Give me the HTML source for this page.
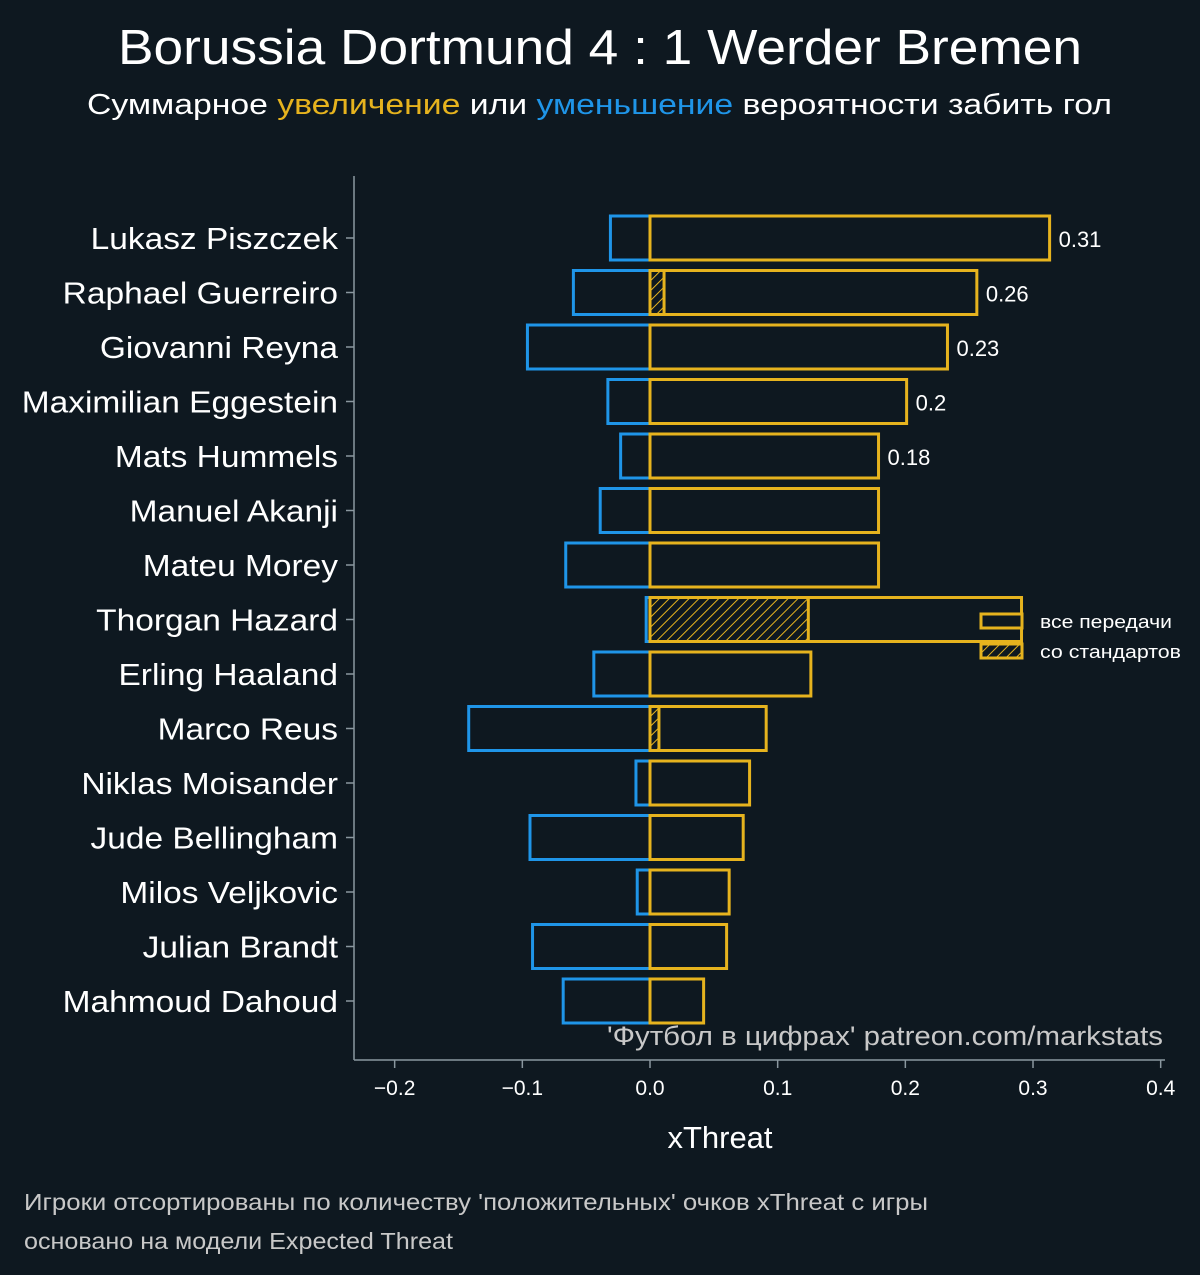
<!DOCTYPE html>
<html><head><meta charset="utf-8"><style>
body{margin:0;background:#0e1820;}
svg{display:block;font-family:"Liberation Sans","DejaVu Sans",sans-serif;}
</style></head><body>
<svg id="c" width="1200" height="1275" viewBox="0 0 1200 1275">
<defs><pattern id="hatch" width="7" height="7" patternUnits="userSpaceOnUse" patternTransform="rotate(45)"><rect width="7" height="7" fill="#0e1820"/><line x1="0" y1="0" x2="0" y2="7" stroke="#e6b31e" stroke-width="2"/></pattern></defs>
<rect width="1200" height="1275" fill="#0e1820"/>
<text x="118" y="64" textLength="964" lengthAdjust="spacingAndGlyphs" font-size="49" fill="#fff">Borussia Dortmund 4 : 1 Werder Bremen</text>
<text x="87" y="114" textLength="1025" lengthAdjust="spacingAndGlyphs" font-size="29" fill="#fff">Суммарное <tspan fill="#e6b31e">увеличение</tspan> или <tspan fill="#1f95e8">уменьшение</tspan> вероятности забить гол</text>
<g id="plot"></g>
<line x1="354" y1="176" x2="354" y2="1060" stroke="#8a979f" stroke-width="1.5"/>
<line x1="354" y1="1060" x2="1165" y2="1060" stroke="#8a979f" stroke-width="1.5"/>
<text x="720" y="1148" text-anchor="middle" font-size="31" fill="#fff">xThreat</text>
<text x="607" y="1045" textLength="556" lengthAdjust="spacingAndGlyphs" font-size="27" fill="#c8c8c8">'Футбол в цифрах' patreon.com/markstats</text>
<g>
<rect x="981" y="614" width="41" height="14" fill="#0e1820" stroke="#e6b31e" stroke-width="3"/>
<text x="1040" y="628" textLength="132" lengthAdjust="spacingAndGlyphs" font-size="18" fill="#fff">все передачи</text>
<rect x="981" y="644" width="41" height="14" fill="url(#hatch)" stroke="#e6b31e" stroke-width="3"/>
<text x="1040" y="658" textLength="141" lengthAdjust="spacingAndGlyphs" font-size="18" fill="#fff">со стандартов</text>
</g>
<text x="24" y="1210" textLength="904" lengthAdjust="spacingAndGlyphs" font-size="23" fill="#c8c8c8">Игроки отсортированы по количеству 'положительных' очков xThreat с игры</text>
<text x="24" y="1249" textLength="429" lengthAdjust="spacingAndGlyphs" font-size="23" fill="#c8c8c8">основано на модели Expected Threat</text>
</svg>
<script>
const players=["Lukasz Piszczek","Raphael Guerreiro","Giovanni Reyna","Maximilian Eggestein","Mats Hummels","Manuel Akanji","Mateu Morey","Thorgan Hazard","Erling Haaland","Marco Reus","Niklas Moisander","Jude Bellingham","Milos Veljkovic","Julian Brandt","Mahmoud Dahoud"];
const positive=[0.313,0.256,0.233,0.201,0.179,0.179,0.179,0.291,0.126,0.091,0.078,0.073,0.062,0.060,0.042];
const negative=[-0.031,-0.060,-0.096,-0.033,-0.023,-0.039,-0.066,-0.003,-0.044,-0.142,-0.011,-0.094,-0.010,-0.092,-0.068];
const setPieces=[0,0.011,0,0,0,0,0,0.124,0,0.007,0,0,0,0,0];
const valueLabels=["0.31","0.26","0.23","0.2","0.18"];
const xTicks=[-0.2,-0.1,0.0,0.1,0.2,0.3,0.4];
const xTickLabels=["−0.2","−0.1","0.0","0.1","0.2","0.3","0.4"];
const X=v=>650+v*1276.7;
const Y=i=>238+i*54.5;
const NS="http://www.w3.org/2000/svg";
const g=document.getElementById('plot');
function mk(t,a){const e=document.createElementNS(NS,t);for(const k in a)e.setAttribute(k,a[k]);g.appendChild(e);return e;}
const H=44;
players.forEach((p,i)=>{
  const y=Y(i);
  let r=mk('rect',{x:X(negative[i]),y:y-H/2,width:X(0)-X(negative[i]),height:H,fill:'none',stroke:'#1f95e8','stroke-width':3});
  
  
  if(setPieces[i]>0){
    let s=mk('rect',{x:X(0),y:y-H/2,width:X(setPieces[i])-X(0),height:H,fill:'url(#hatch)',stroke:'#e6b31e','stroke-width':3});
    
    
  }
  let b=mk('rect',{x:X(0),y:y-H/2,width:X(positive[i])-X(0),height:H,fill:'none',stroke:'#e6b31e','stroke-width':3});
  
  
  let t=mk('text',{x:0,y:0,transform:'translate(338,'+(y+11)+') scale(1.08,1)','text-anchor':'end','font-size':31,fill:'#fff'});
  t.textContent=p;
  
  
  let tk=mk('line',{x1:346,x2:354,y1:y,y2:y,stroke:'#8a979f','stroke-width':1.5});
  
  
  if(i<valueLabels.length){
    let v=mk('text',{x:X(positive[i])+9,y:y+9,'font-size':22,fill:'#fff'});
    v.textContent=valueLabels[i];
    
    
  }
});
xTicks.forEach((v,i)=>{
  let l=mk('line',{x1:X(v),x2:X(v),y1:1060,y2:1068,stroke:'#8a979f','stroke-width':1.5});
  
  
  let t=mk('text',{x:X(v),y:1095,'text-anchor':'middle','font-size':21,fill:'#fff'});
  t.textContent=xTickLabels[i];
  
  
});
</script>
</body></html>
